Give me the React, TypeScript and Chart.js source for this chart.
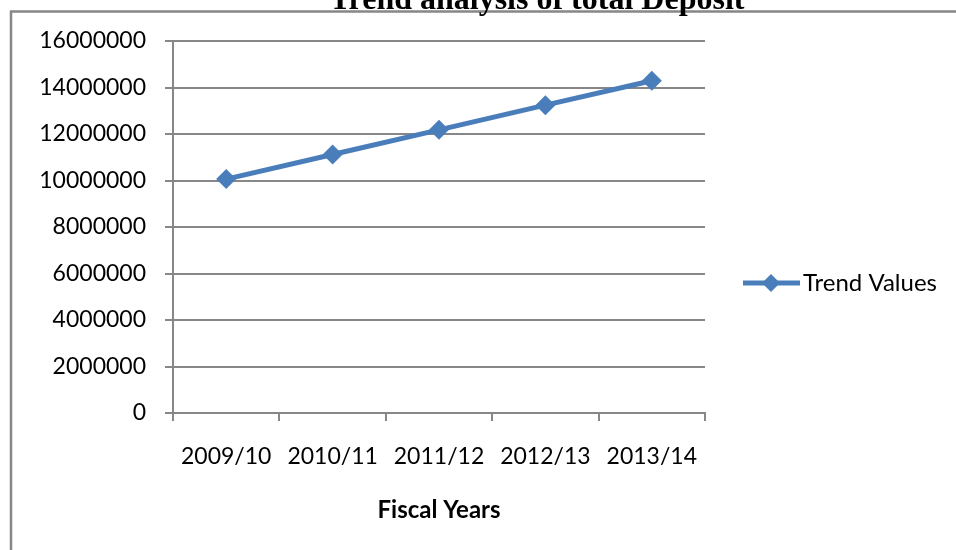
import React, { useEffect, useRef } from "react";
import { Chart, registerables } from "chart.js";

Chart.register(...registerables);

const categories = ["2009/10", "2010/11", "2011/12", "2012/13", "2013/14"];
const trendValues = [10060000, 11120000, 12180000, 13240000, 14290000];
const seriesLabel = "Trend Values";
const chartTitle = "Trend analysis of total Deposit";
const xTitle = "Fiscal Years";

const BLUE = "#4A7EBB";
const GRID = "#878787";

function makeLegendImage(): HTMLCanvasElement {
  // 100px wide image; visible line occupies the right 57px
  const c = document.createElement("canvas");
  c.width = 100;
  c.height = 20;
  const ctx = c.getContext("2d")!;
  ctx.strokeStyle = BLUE;
  ctx.lineWidth = 5;
  ctx.beginPath();
  ctx.moveTo(43, 10);
  ctx.lineTo(100, 10);
  ctx.stroke();
  ctx.fillStyle = BLUE;
  ctx.beginPath();
  ctx.moveTo(71, 1);
  ctx.lineTo(80, 10);
  ctx.lineTo(71, 19);
  ctx.lineTo(62, 10);
  ctx.closePath();
  ctx.fill();
  return c;
}

const framePlugin = {
  id: "frameAndTitle",
  beforeDraw(chart: any) {
    const ctx = chart.ctx;
    ctx.save();
    ctx.fillStyle = "#fff";
    ctx.fillRect(0, 0, chart.width, chart.height);
    ctx.strokeStyle = GRID;
    ctx.lineWidth = 2.5;
    ctx.strokeRect(11, 11.5, 1200, 800);
    ctx.restore();
  },
  afterDraw(chart: any) {
    const ctx = chart.ctx;
    ctx.save();
    ctx.fillStyle = "#000";
    ctx.font = 'bold 32px "Liberation Serif"';
    ctx.textAlign = "center";
    ctx.textBaseline = "alphabetic";
    ctx.fillText(chartTitle, 537, 9);
    ctx.restore();
  },
};

export default function App() {
  const ref = useRef<HTMLCanvasElement | null>(null);
  useEffect(() => {
    document.body.style.margin = "0";
    const legendImg = makeLegendImage();
    Chart.defaults.font.family = "Lato";
    Chart.defaults.font.size = 23;
    Chart.defaults.color = "#000";
    const chart = new Chart(ref.current!, {
      type: "line",
      data: {
        labels: categories,
        datasets: [
          {
            label: seriesLabel,
            data: trendValues,
            borderColor: BLUE,
            backgroundColor: BLUE,
            borderWidth: 5,
            pointStyle: "rectRot",
            pointRadius: 10,
            pointBorderWidth: 0,
            pointBackgroundColor: BLUE,
            tension: 0,
          },
        ],
      },
      options: {
        responsive: false,
        animation: false,
        layout: { padding: { top: 41, left: 0, right: 16, bottom: 25 } },
        plugins: {
          title: { display: false },
          tooltip: { enabled: false },
          legend: {
            display: true,
            position: "right",
            align: "center",
            labels: {
              usePointStyle: true,
              pointStyleWidth: 82,
              padding: 4,
              color: "#000",
              font: { size: 24, family: "Lato" },
              generateLabels: (ch: any) => {
                const items = (Chart.defaults.plugins.legend.labels as any).generateLabels(ch);
                items.forEach((it: any) => {
                  it.pointStyle = legendImg;
                });
                return items;
              },
            },
          },
        },
        scales: {
          x: {
            type: "category",
            offset: true,
            grid: {
              display: true,
              drawOnChartArea: false,
              drawTicks: true,
              tickLength: 8,
              offset: true,
              color: GRID,
              lineWidth: 2,
            },
            border: { display: true, color: GRID, width: 2 },
            ticks: { padding: 22, font: { size: 23 }, color: "#000", maxRotation: 0 },
            title: {
              display: true,
              text: xTitle,
              font: { size: 24, weight: "bold" },
              color: "#000",
              padding: { top: 13, bottom: 0 },
            },
            afterFit: (s: any) => {
              s.height = 112;
            },
          },
          y: {
            min: 0,
            max: 16000000,
            ticks: {
              stepSize: 2000000,
              padding: 19,
              font: { size: 23 },
              color: "#000",
              callback: (v: any) => String(v),
            },
            grid: {
              color: GRID,
              lineWidth: 2,
              tickLength: 8,
              drawTicks: true,
            },
            border: { display: true, color: GRID, width: 2 },
            afterFit: (s: any) => {
              s.width = 173;
            },
          },
        },
      },
      plugins: [framePlugin],
    });
    return () => chart.destroy();
  }, []);
  return (
    <div style={{ width: 956, height: 550 }}>
      <canvas ref={ref} width={956} height={550} />
    </div>
  );
}
